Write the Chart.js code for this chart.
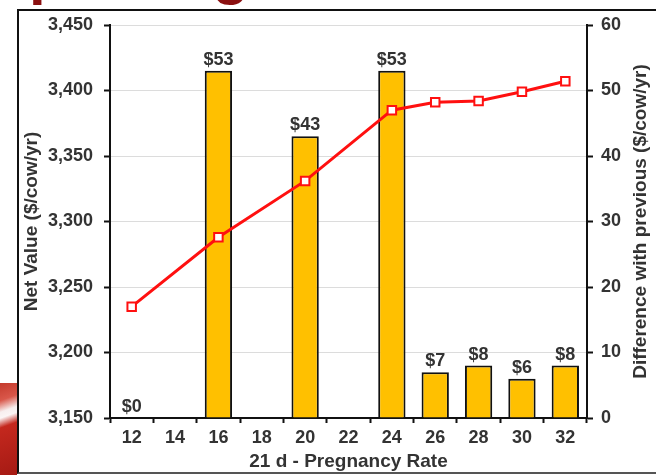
<!DOCTYPE html>
<html>
<head>
<meta charset="utf-8">
<script src="https://cdn.jsdelivr.net/npm/chart.js@4.4.1/dist/chart.umd.min.js"></script>
<style>
    html, body { margin: 0; padding: 0; background: #fff; overflow: hidden; }
    #page { position: relative; width: 656px; height: 475px; overflow: hidden; background: #fff; }
    #title {
        position: absolute; left: -41px; top: -57px; margin: 0;
        font: bold 60px 'Liberation Sans', Arial, sans-serif; line-height: 60px;
        color: #8b1010; white-space: nowrap;
    }
    #swoosh {
        position: absolute; left: 0; top: 383px; width: 17px; height: 92px;
        background: linear-gradient(160deg, #c43a2c 0%, #d9574a 18%, #f7eeee 30%, #fbf5f5 36%, #c4281e 46%, #a51a14 100%);
    }
    #frame {
        position: absolute; left: 17px; top: 9px; width: 660px; height: 461px;
        background: #fff; border-left: 2px solid #111; border-top: 2px solid #111; border-bottom: 2px solid #555;
    }
    #chart { position: absolute; left: 0; top: 0; }
</style>
</head>
<body>
<div id="page">
    <h1 id="title">Improving</h1>
    <div id="swoosh"></div>
    <div id="frame"></div>
    <canvas id="chart" width="656" height="475"></canvas>
</div>
<script>
// 21 d pregnancy rate categories
const rates = ['12', '14', '16', '18', '20', '22', '24', '26', '28', '30', '32'];
// Net value ($/cow/yr), left axis
const netValue = [3235, null, 3288, null, 3331, null, 3385, 3391, 3392, 3399, 3407];
// Difference with previous ($/cow/yr), right axis
const difference = [0, null, 53, null, 43, null, 53, 7, 8, 6, 8];

const netValueMin = 3150, netValueMax = 3450, netValueStep = 50;
const diffMin = 0, diffMax = 60, diffStep = 10;

const textColor = '#333';
const fontFamily = "'Liberation Sans', Arial, sans-serif";

Chart.defaults.font.family = fontFamily;
Chart.defaults.font.weight = 'bold';
Chart.defaults.color = textColor;

// dollar labels above the bars
const barLabels = {
    id: 'barLabels',
    afterDatasetsDraw(chart) {
        const ctx = chart.ctx;
        const meta = chart.getDatasetMeta(1);
        ctx.save();
        ctx.font = 'bold 18px ' + fontFamily;
        ctx.fillStyle = textColor;
        ctx.textAlign = 'center';
        ctx.textBaseline = 'alphabetic';
        meta.data.forEach(function(bar, i) {
            const v = difference[i];
            if (v === null) return;
            ctx.fillText('$' + v, bar.x, bar.y - 6);
        });
        ctx.restore();
    }
};

// right axis title reads bottom to top, like the left one
const rightTitle = {
    id: 'rightTitle',
    afterDraw(chart) {
        const ctx = chart.ctx;
        const area = chart.chartArea;
        ctx.save();
        ctx.translate(641, (area.top + area.bottom) / 2);
        ctx.rotate(-Math.PI / 2);
        ctx.font = 'bold 19px ' + fontFamily;
        ctx.fillStyle = textColor;
        ctx.textAlign = 'center';
        ctx.textBaseline = 'middle';
        ctx.fillText('Difference with previous ($/cow/yr)', 0, 0);
        ctx.restore();
    }
};

const ctx = document.getElementById('chart').getContext('2d');
const chart = new Chart(ctx, {
    data: {
        labels: rates,
        datasets: [{
            type: 'line',
            label: 'Net Value',
            data: netValue,
            yAxisID: 'yLeft',
            order: 0,
            spanGaps: true,
            borderColor: '#ff1010',
            borderWidth: 3,
            tension: 0,
            pointStyle: 'rect',
            pointRadius: 6,
            pointBorderWidth: 2,
            pointBackgroundColor: '#fff',
            pointBorderColor: '#ff1010'
        }, {
            type: 'bar',
            label: 'Difference',
            data: difference,
            yAxisID: 'yRight',
            order: 1,
            backgroundColor: '#ffc000',
            borderColor: '#111',
            borderWidth: 2,
            categoryPercentage: 1,
            barPercentage: 0.63
        }]
    },
    options: {
        responsive: false,
        animation: false,
        devicePixelRatio: 1,
        layout: { padding: { left: 17, top: 25, right: 0, bottom: 0 } },
        plugins: {
            legend: { display: false },
            tooltip: { enabled: false }
        },
        scales: {
            x: {
                type: 'category',
                offset: true,
                grid: { offset: true, drawOnChartArea: false, tickLength: 5, tickColor: '#111', tickWidth: 2 },
                border: { color: '#111', width: 2 },
                ticks: { padding: 4, font: { size: 18, weight: 'bold' }, color: textColor, maxRotation: 0 },
                title: {
                    display: true,
                    text: '21 d - Pregnancy Rate',
                    font: { size: 19, weight: 'bold' },
                    color: textColor,
                    padding: { top: 0, bottom: 2 }
                },
                afterFit: function(scale) { scale.height = 57; }
            },
            yLeft: {
                position: 'left',
                min: netValueMin,
                max: netValueMax,
                grid: { color: '#dcdcdc', lineWidth: 1, tickLength: 6, tickColor: '#111', tickWidth: 2 },
                border: { color: '#111', width: 2 },
                ticks: {
                    stepSize: netValueStep,
                    padding: 11,
                    font: { size: 18, weight: 'bold' },
                    color: textColor,
                    callback: function(value) { return value.toLocaleString('en-US'); }
                },
                title: {
                    display: true,
                    text: 'Net Value ($/cow/yr)',
                    font: { size: 19, weight: 'bold' },
                    color: textColor,
                    padding: { top: 3, bottom: 0 }
                },
                afterFit: function(scale) { scale.width = 93; }
            },
            yRight: {
                position: 'right',
                min: diffMin,
                max: diffMax,
                grid: { drawOnChartArea: false, tickLength: 6, tickColor: '#111', tickWidth: 2 },
                border: { color: '#111', width: 2 },
                ticks: {
                    stepSize: diffStep,
                    padding: 8,
                    font: { size: 18, weight: 'bold' },
                    color: textColor
                },
                afterFit: function(scale) { scale.width = 69; }
            }
        }
    },
    plugins: [barLabels, rightTitle]
});
</script>
</body>
</html>
